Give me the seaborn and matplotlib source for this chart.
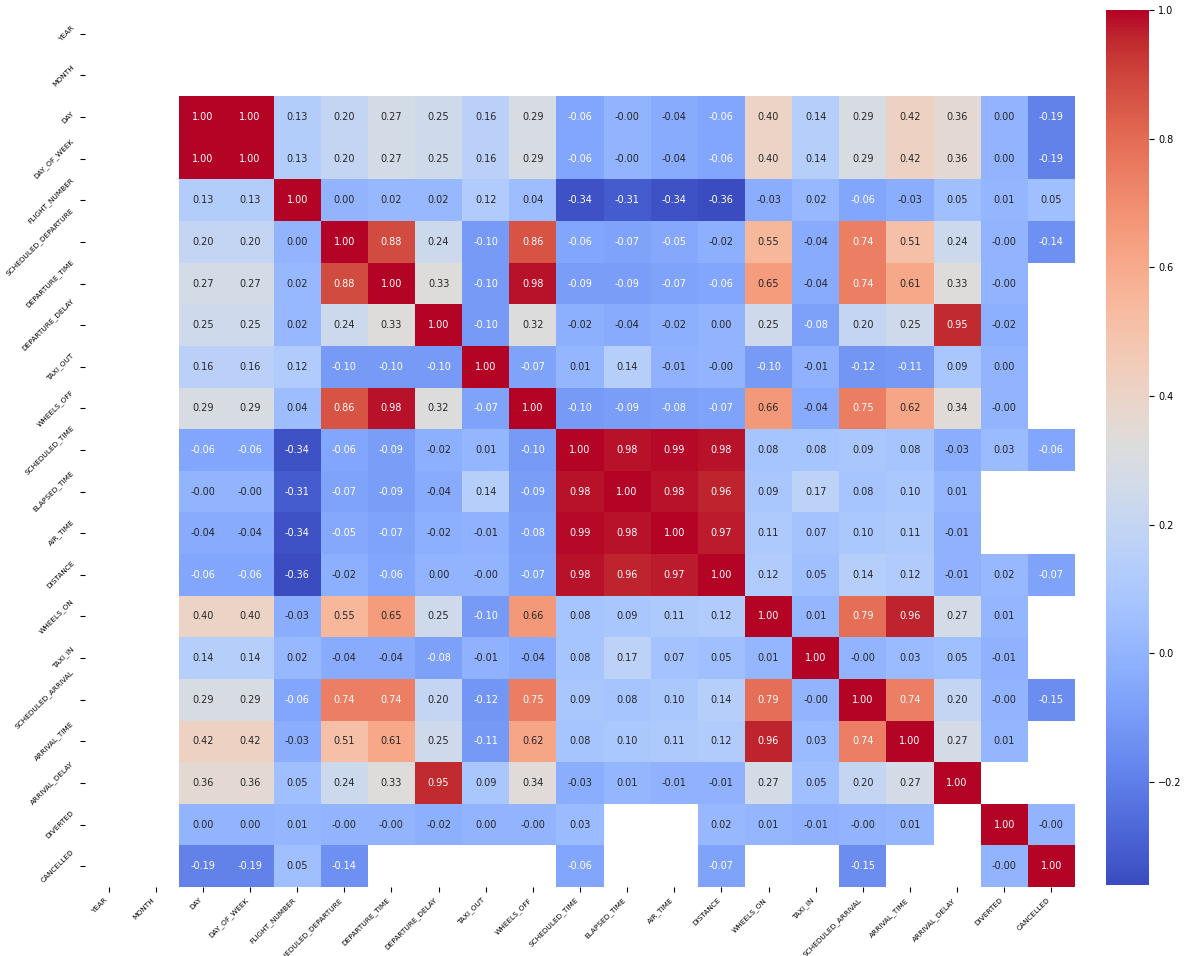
import numpy as np
import pandas as pd
import matplotlib
matplotlib.use('Agg')
import matplotlib.pyplot as plt
import seaborn as sns

# ── Column names (flight delays dataset) ─────────────────────────────────────
columns = ['YEAR', 'MONTH', 'DAY', 'DAY_OF_WEEK', 'FLIGHT_NUMBER',
           'SCHEDULED_DEPARTURE', 'DEPARTURE_TIME', 'DEPARTURE_DELAY',
           'TAXI_OUT', 'WHEELS_OFF', 'SCHEDULED_TIME', 'ELAPSED_TIME',
           'AIR_TIME', 'DISTANCE', 'WHEELS_ON', 'TAXI_IN',
           'SCHEDULED_ARRIVAL', 'ARRIVAL_TIME', 'ARRIVAL_DELAY',
           'DIVERTED', 'CANCELLED']

# constant columns -> correlation undefined
constant_cols = ['YEAR', 'MONTH']

n = np.nan
z = -0.001  # printed as -0.00

# correlation values for DAY .. CANCELLED
corr_values = [
    [1.00, 1.00, 0.13, 0.20, 0.27, 0.25, 0.16, 0.29, -0.06, z, -0.04, -0.06, 0.40, 0.14, 0.29, 0.42, 0.36, 0.00, -0.19],
    [1.00, 1.00, 0.13, 0.20, 0.27, 0.25, 0.16, 0.29, -0.06, z, -0.04, -0.06, 0.40, 0.14, 0.29, 0.42, 0.36, 0.00, -0.19],
    [0.13, 0.13, 1.00, 0.00, 0.02, 0.02, 0.12, 0.04, -0.34, -0.31, -0.34, -0.36, -0.03, 0.02, -0.06, -0.03, 0.05, 0.01, 0.05],
    [0.20, 0.20, 0.00, 1.00, 0.88, 0.24, -0.10, 0.86, -0.06, -0.07, -0.05, -0.02, 0.55, -0.04, 0.74, 0.51, 0.24, z, -0.14],
    [0.27, 0.27, 0.02, 0.88, 1.00, 0.33, -0.10, 0.98, -0.09, -0.09, -0.07, -0.06, 0.65, -0.04, 0.74, 0.61, 0.33, z, n],
    [0.25, 0.25, 0.02, 0.24, 0.33, 1.00, -0.10, 0.32, -0.02, -0.04, -0.02, 0.00, 0.25, -0.08, 0.20, 0.25, 0.95, -0.02, n],
    [0.16, 0.16, 0.12, -0.10, -0.10, -0.10, 1.00, -0.07, 0.01, 0.14, -0.01, z, -0.10, -0.01, -0.12, -0.11, 0.09, 0.00, n],
    [0.29, 0.29, 0.04, 0.86, 0.98, 0.32, -0.07, 1.00, -0.10, -0.09, -0.08, -0.07, 0.66, -0.04, 0.75, 0.62, 0.34, z, n],
    [-0.06, -0.06, -0.34, -0.06, -0.09, -0.02, 0.01, -0.10, 1.00, 0.98, 0.99, 0.98, 0.08, 0.08, 0.09, 0.08, -0.03, 0.03, -0.06],
    [z, z, -0.31, -0.07, -0.09, -0.04, 0.14, -0.09, 0.98, 1.00, 0.98, 0.96, 0.09, 0.17, 0.08, 0.10, 0.01, n, n],
    [-0.04, -0.04, -0.34, -0.05, -0.07, -0.02, -0.01, -0.08, 0.99, 0.98, 1.00, 0.97, 0.11, 0.07, 0.10, 0.11, -0.01, n, n],
    [-0.06, -0.06, -0.36, -0.02, -0.06, 0.00, z, -0.07, 0.98, 0.96, 0.97, 1.00, 0.12, 0.05, 0.14, 0.12, -0.01, 0.02, -0.07],
    [0.40, 0.40, -0.03, 0.55, 0.65, 0.25, -0.10, 0.66, 0.08, 0.09, 0.11, 0.12, 1.00, 0.01, 0.79, 0.96, 0.27, 0.01, n],
    [0.14, 0.14, 0.02, -0.04, -0.04, -0.08, -0.01, -0.04, 0.08, 0.17, 0.07, 0.05, 0.01, 1.00, z, 0.03, 0.05, -0.01, n],
    [0.29, 0.29, -0.06, 0.74, 0.74, 0.20, -0.12, 0.75, 0.09, 0.08, 0.10, 0.14, 0.79, z, 1.00, 0.74, 0.20, z, -0.15],
    [0.42, 0.42, -0.03, 0.51, 0.61, 0.25, -0.11, 0.62, 0.08, 0.10, 0.11, 0.12, 0.96, 0.03, 0.74, 1.00, 0.27, 0.01, n],
    [0.36, 0.36, 0.05, 0.24, 0.33, 0.95, 0.09, 0.34, -0.03, 0.01, -0.01, -0.01, 0.27, 0.05, 0.20, 0.27, 1.00, n, n],
    [0.00, 0.00, 0.01, z, z, -0.02, 0.00, z, 0.03, n, n, 0.02, 0.01, -0.01, z, 0.01, n, 1.00, z],
    [-0.19, -0.19, 0.05, -0.14, n, n, n, n, -0.06, n, n, -0.07, n, n, -0.15, n, n, z, 1.00],
]

# ── Build full correlation frame ──────────────────────────────────────────────
varying = [c for c in columns if c not in constant_cols]
corr = pd.DataFrame(np.nan, index=columns, columns=columns)
corr.loc[varying, varying] = np.array(corr_values, dtype=float)

# ── Plot ──────────────────────────────────────────────────────────────────────
fig = plt.figure(figsize=(11.89, 9.56), dpi=100)
ax = fig.add_axes([0.0715, 0.0722, 0.8326, 0.9142])
cax = fig.add_axes([0.930, 0.0745, 0.036, 0.915])

sns.heatmap(corr, annot=True, fmt='.2f', cmap='coolwarm', ax=ax, cbar_ax=cax,
            annot_kws={'fontsize': 7})

ax.set_xticklabels(ax.get_xticklabels(), rotation=45, ha='right', fontsize=5.3)
ax.set_yticklabels(ax.get_yticklabels(), rotation=45, fontsize=5.3)
cax.tick_params(labelsize=7)

plt.savefig('out.png', dpi=100)
plt.close()
